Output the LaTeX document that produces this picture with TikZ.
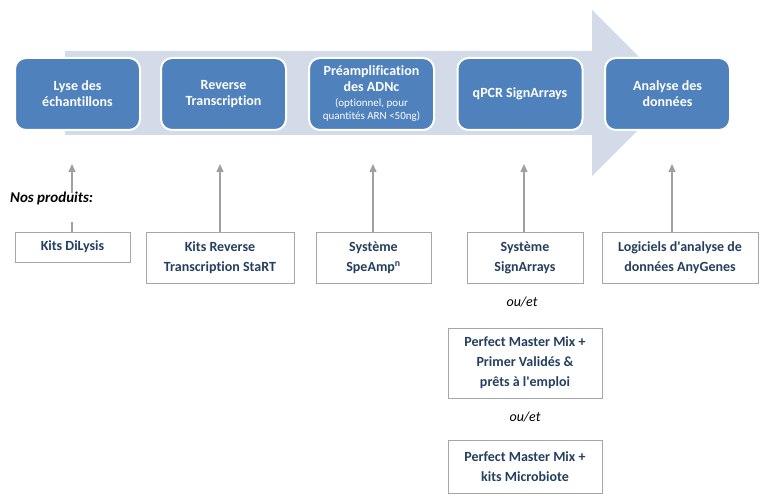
\documentclass[tikz,border=0pt]{standalone}
\usepackage{fontspec}
\setmainfont{Carlito}[Ligatures={TeXOff,CommonOff}]
\usetikzlibrary{arrows.meta,calc}
\definecolor{stepblue}{HTML}{4F81BD}
\definecolor{bandblue}{HTML}{D3DAE8}
\definecolor{prodtext}{HTML}{243F60}
\definecolor{arrgray}{HTML}{A0A0A0}
\definecolor{boxgray}{HTML}{A6A6A6}
\tikzset{
  stepbox/.style={draw=white, line width=2pt, fill=stepblue, rounded corners=11pt,
    minimum width=125pt, minimum height=72pt, text=white, align=center,
    font=\fontsize{14}{16}\selectfont\bfseries, inner sep=2pt},
  prodbox/.style={draw=boxgray, line width=0.9pt, fill=white, align=center,
    text=prodtext, font=\fontsize{14}{20}\selectfont\bfseries, inner sep=2pt},
  garrow/.style={draw=arrgray, line width=1.4pt, -{Triangle[width=7pt,length=8pt]}},
  oulabel/.style={font=\fontsize{14}{16}\selectfont\itshape, text=black}
}
\begin{document}
\begin{tikzpicture}[x=1pt,y=-1pt]
\useasboundingbox (0,0) rectangle (766,500);
% big background arrow
\fill[bandblue] (65,51) -- (592,51) -- (592,10) -- (675,93) -- (592,176) -- (592,135) -- (65,135) -- cycle;
% process steps
\node[stepbox] (s1) at (77.5,94) {Lyse des\\échantillons};
\node[stepbox] (s2) at (223.5,94) {Reverse\\Transcription};
\node[stepbox] (s3) at (371.5,94) {Préamplification\\des ADNc\\[-1pt]{\fontsize{11}{12}\selectfont\mdseries (optionnel, pour}\\[-3pt]{\fontsize{11}{12}\selectfont\mdseries quantités ARN <50ng)}};
\node[stepbox] (s4) at (520,94) {qPCR SignArrays};
\node[stepbox] (s5) at (667.5,94) {Analyse des\\données};
% products
\node[prodbox, minimum width=115pt, minimum height=30pt] (pA) at (72.5,247) {Kits DiLysis};
\node[prodbox, minimum width=148pt, minimum height=51pt] (pB) at (220,257.5) {Kits Reverse\\Transcription StaRT};
\node[prodbox, minimum width=115pt, minimum height=51pt] (pC) at (373.5,257.5) {Système\\SpeAmp\textsuperscript{n}};
\node[prodbox, minimum width=116pt, minimum height=51pt] (pD) at (525,257.5) {Système\\SignArrays};
\node[prodbox, minimum width=156pt, minimum height=51pt] (pE) at (680,257.5) {Logiciels d'analyse de\\données AnyGenes};
\node[oulabel] (o1) at (522,302) {ou/et};
\node[prodbox, minimum width=154pt, minimum height=70pt] (pF) at (525,363) {Perfect Master Mix +\\Primer Validés \&\\prêts à l'emploi};
\node[oulabel] (o2) at (525,417) {ou/et};
\node[prodbox, minimum width=154pt, minimum height=53pt] (pG) at (525,466.5) {Perfect Master Mix +\\kits Microbiote};
% arrow ends
\coordinate (tA) at (72,164);
\coordinate (tB) at (220,164);
\coordinate (tC) at (373,164);
\coordinate (tD) at (524,164);
\coordinate (tE) at (672,164);
\draw[garrow] (tA |- pA.north) -- (tA);
\draw[garrow] (tB |- pB.north) -- (tB);
\draw[garrow] (tC |- pC.north) -- (tC);
\draw[garrow] (tD |- pD.north) -- (tD);
\draw[garrow] (tE |- pE.north) -- (tE);
\node[fill=white, anchor=base west, inner sep=0pt, text height=10.5pt, text depth=19pt,
  font=\fontsize{15}{16}\selectfont\bfseries\itshape] (np) at (10,203) {Nos produits:};
\end{tikzpicture}
\end{document}
